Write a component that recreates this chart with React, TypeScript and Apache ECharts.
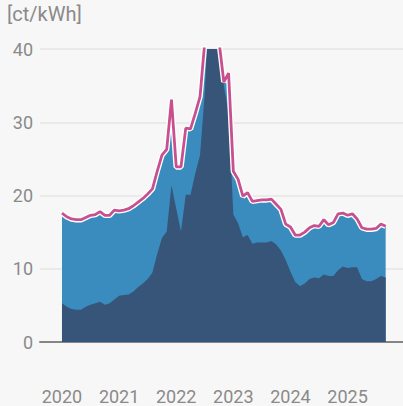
import React, { useEffect, useRef } from "react";
import * as echarts from "echarts";

// Monthly values, Jan 2020 .. Sep 2025 (ct/kWh)
const startYear = 2020;
const dark = [
  5.3, 4.8, 4.5, 4.4, 4.4, 4.8, 5.1, 5.3, 5.5, 5.1, 5.3, 5.8,
  6.3, 6.4, 6.5, 6.9, 7.5, 8.0, 8.6, 9.5, 12.0, 14.2, 15.1, 21.4,
  18.2, 15.1, 20.1, 20.1, 23.0, 25.5, 34, 48, 50, 40.5, 35, 31.2,
  17.4, 16.2, 14.3, 14.6, 13.4, 13.6, 13.6, 13.6, 13.8, 13.3, 12.5, 11.2,
  9.6, 8.2, 7.6, 8.0, 8.6, 8.8, 8.7, 9.2, 9.0, 9.0, 9.8, 10.3,
  10.1, 10.2, 10.2, 8.6, 8.3, 8.3, 8.6, 9.0, 8.8,
];
const total = [
  17.6, 17.1, 16.8, 16.7, 16.7, 17.0, 17.3, 17.4, 17.8, 17.3, 17.3, 18.0,
  17.9, 18.0, 18.2, 18.6, 19.1, 19.6, 20.2, 20.9, 23.3, 25.5, 26.3, 33.1,
  23.9, 23.9, 29.2, 29.1, 31.2, 33.5, 41, 53, 52, 41, 35.5, 36.7,
  23.3, 22.2, 19.9, 20.4, 19.2, 19.3, 19.4, 19.4, 19.5, 18.8, 18.1, 16.1,
  15.7, 14.6, 14.6, 15.0, 15.6, 15.9, 15.8, 16.7, 16.0, 16.3, 17.5, 17.6,
  17.3, 17.5, 16.8, 15.6, 15.4, 15.4, 15.5, 16.1, 15.8,
];
const yearTicks = [0, 12, 24, 36, 48, 60];
const yTicks = [0, 10, 20, 30, 40];
const unitLabel = "[ct/kWh]";

const FONT = "Roboto";
const GREY = "#8a8a8a";

export default function App() {
  const ref = useRef<HTMLDivElement>(null);
  useEffect(() => {
    if (!ref.current) return;
    const chart = echarts.init(ref.current, null, { renderer: "svg" });
    const darkData = dark.map((v, i) => [i, v]);
    const totalData = total.map((v, i) => [i, v]);
    chart.setOption({
      animation: false,
      backgroundColor: "#f7f7f7",
      grid: { left: 40, right: 0, top: 49, bottom: 64, containLabel: false },
      graphic: [
        {
          type: "text",
          left: 7,
          top: 4,
          style: { text: unitLabel, fill: GREY, fontSize: 20, fontFamily: FONT },
        },
      ],
      xAxis: {
        type: "value",
        min: -4.62,
        max: 71.64,
        splitLine: { show: false },
        axisTick: { show: false },
        axisLine: { show: true, onZero: false, lineStyle: { color: "#858585", width: 2 } },
        axisLabel: {
          customValues: yearTicks,
          formatter: (v: number) => String(startYear + Math.round(v / 12)),
          color: GREY,
          fontSize: 18,
          fontFamily: FONT,
          margin: 45,
        },
      },
      yAxis: {
        type: "value",
        min: yTicks[0],
        max: yTicks[yTicks.length - 1],
        interval: 10,
        axisLine: { show: false },
        axisTick: { show: false },
        splitLine: { show: true, lineStyle: { color: "#e6e6e6", width: 1.5 } },
        axisLabel: { color: GREY, fontSize: 18, fontFamily: FONT, margin: 7 },
      },
      series: [
        {
          type: "line",
          data: totalData,
          symbol: "none",
          lineStyle: { width: 0 },
          areaStyle: { color: "#3a8cbf", opacity: 1 },
          z: 1,
        },
        {
          type: "line",
          data: darkData,
          symbol: "none",
          lineStyle: { width: 0 },
          areaStyle: { color: "#375479", opacity: 1 },
          z: 2,
        },
        {
          type: "line",
          data: totalData,
          symbol: "none",
          lineStyle: { width: 5.5, color: "#ffffff" },
          z: 3,
        },
        {
          type: "line",
          data: totalData,
          symbol: "none",
          lineStyle: { width: 2.8, color: "#c8508f" },
          z: 4,
        },
      ],
    });
    return () => chart.dispose();
  }, []);
  return (
    <div
      ref={ref}
      style={{ position: "fixed", left: 0, top: 0, width: 403, height: 406 }}
    />
  );
}
